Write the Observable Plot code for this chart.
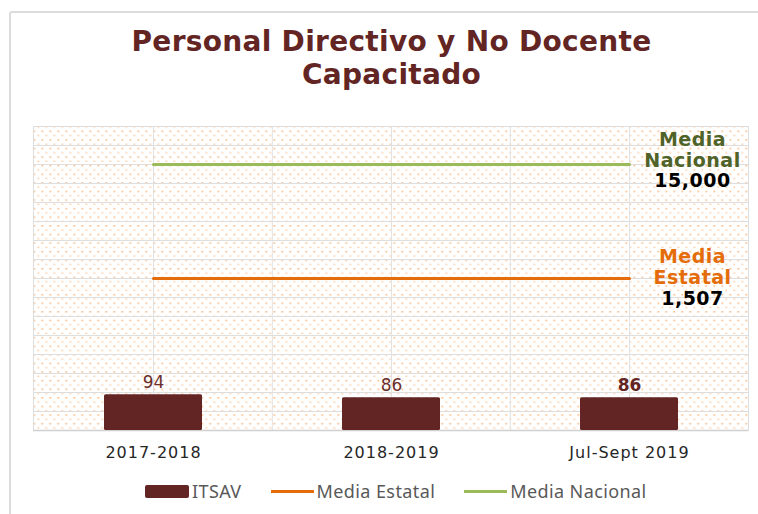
<!DOCTYPE html>
<html><head><meta charset="utf-8">
<script src="https://cdn.jsdelivr.net/npm/d3@7"></script>
<script src="https://cdn.jsdelivr.net/npm/@observablehq/plot@0.6"></script>
<style>
body{margin:0;background:#fff;}
#wrap{position:relative;width:758px;height:514px;overflow:hidden;font-family:"DejaVu Sans",Verdana,sans-serif;}
#border{position:absolute;left:9px;top:11px;width:800px;height:600px;border:2px solid #dcdcdc;border-radius:3px;}
#title{position:absolute;left:0;top:26px;width:783px;text-align:center;font:bold 28px/32.6px "DejaVu Sans",Verdana,sans-serif;letter-spacing:0.3px;color:#632523;}
#chart{position:absolute;left:0;top:0;}
#legend{position:absolute;top:479px;left:145px;display:flex;align-items:center;font:18px "Noto Sans",sans-serif;letter-spacing:0.4px;color:#595959;white-space:nowrap;}
#legend .sw{width:44px;height:13px;background:#632523;border-radius:2px;margin-right:3px;}
#legend .ln{width:43px;height:3px;margin-right:3px;}
</style></head>
<body>
<div id="wrap">
  <div id="border"></div>
  <div id="chart"></div>
  <div id="title">Personal Directivo y No Docente<br>Capacitado</div>
  <div id="legend">
    <span class="sw"></span><span>ITSAV</span>
    <span class="ln" style="background:#E46C0A;margin-left:29px"></span><span>Media Estatal</span>
    <span class="ln" style="background:#9BBB59;margin-left:29px"></span><span>Media Nacional</span>
  </div>
</div>
<script>
// ---- data ----
const categories = ["2017-2018", "2018-2019", "Jul-Sept 2019"];
const itsav = [94, 86, 86];
const mediaEstatalLevel = 400;     // level where the line sits on the chart's axis
const mediaEstatalValue = 1507;    // value shown in its label
const mediaNacionalLevel = 700;
const mediaNacionalValue = 15000;
const yTicks = d3.range(0, 801, 50);

const bars = categories.map((c, i) => ({cat: c, v: itsav[i], last: i === categories.length - 1}));
const fmt = d3.format(",");
const lastCat = categories[categories.length - 1];

const W = 758, H = 514, ML = 33, MR = 10, MT = 126, MB = 84;
const step = (W - ML - MR) / categories.length;

const patternMark = () => {
  const g = d3.create("svg:g");
  const p = g.append("defs").append("pattern").attr("id", "dots")
    .attr("width", 8).attr("height", 8.6).attr("patternUnits", "userSpaceOnUse");
  p.append("rect").attr("x", 1).attr("y", 1).attr("width", 1.5).attr("height", 1.5).attr("fill", "#F79646").attr("opacity", 0.8);
  p.append("rect").attr("x", 5).attr("y", 5.3).attr("width", 1.5).attr("height", 1.5).attr("fill", "#F79646").attr("opacity", 0.55);
  return g.node();
};

const labelStyle = {dx: 63, lineAnchor: "bottom", fontSize: 19, fontWeight: "bold"};

const chart = Plot.plot({
  width: W, height: H,
  marginLeft: ML, marginRight: MR, marginTop: MT, marginBottom: MB,
  style: {fontFamily: "'DejaVu Sans', Verdana, sans-serif", color: "#262626", background: "transparent"},
  x: {type: "band", domain: categories, paddingInner: 0.59, paddingOuter: 0.295, label: null},
  y: {domain: [0, 800], axis: null},
  marks: [
    patternMark,
    Plot.frame({fill: "url(#dots)"}),
    Plot.gridY(yTicks, {stroke: "#dedede", strokeOpacity: 1}),
    Plot.ruleX(categories, {stroke: "#e2e2e2"}),
    Plot.ruleX(categories.slice(1), {stroke: "#e2e2e2", dx: -step / 2}),
    Plot.frame({stroke: "#dedede"}),
    Plot.ruleY([0], {stroke: "#d0d0d0", strokeWidth: 1.5}),
    Plot.barY(bars, {x: "cat", y: "v", fill: "#632523", rx: 1.5}),
    Plot.text(bars.filter(d => !d.last), {x: "cat", y: "v", text: d => fmt(d.v), dy: -7, lineAnchor: "bottom", fontSize: 17, fill: "#6b2f2d"}),
    Plot.text(bars.filter(d => d.last), {x: "cat", y: "v", text: d => fmt(d.v), dy: -7, lineAnchor: "bottom", fontSize: 17, fontWeight: "bold", fill: "#632523"}),
    Plot.line(categories, {x: d => d, y: () => mediaEstatalLevel, stroke: "#E46C0A", strokeWidth: 3}),
    Plot.line(categories, {x: d => d, y: () => mediaNacionalLevel, stroke: "#9BBB59", strokeWidth: 3}),
    Plot.text([lastCat], {...labelStyle, x: d => d, y: () => mediaNacionalLevel, text: () => "Media\nNacional", dy: 2, lineHeight: 1.1, fill: "#4F6228"}),
    Plot.text([lastCat], {...labelStyle, x: d => d, y: () => mediaNacionalLevel, text: () => fmt(mediaNacionalValue), dy: 22, fill: "#000"}),
    Plot.text([lastCat], {...labelStyle, x: d => d, y: () => mediaEstatalLevel, text: () => "Media\nEstatal", dy: 5, lineHeight: 1.1, fill: "#E46C0A"}),
    Plot.text([lastCat], {...labelStyle, x: d => d, y: () => mediaEstatalLevel, text: () => fmt(mediaEstatalValue), dy: 26, fill: "#000"}),
    Plot.axisX({tickSize: 0, tickPadding: 16, fontSize: 16, label: null})
  ]
});
d3.select(chart).selectAll("[aria-label='x-axis tick label'] text").style("letter-spacing", "1px");
d3.select(chart).selectAll("[aria-label='text']").filter(function() { return this.getAttribute("font-size") === "19"; }).style("letter-spacing", "0.5px");
document.getElementById("chart").appendChild(chart);
</script>
</body></html>
